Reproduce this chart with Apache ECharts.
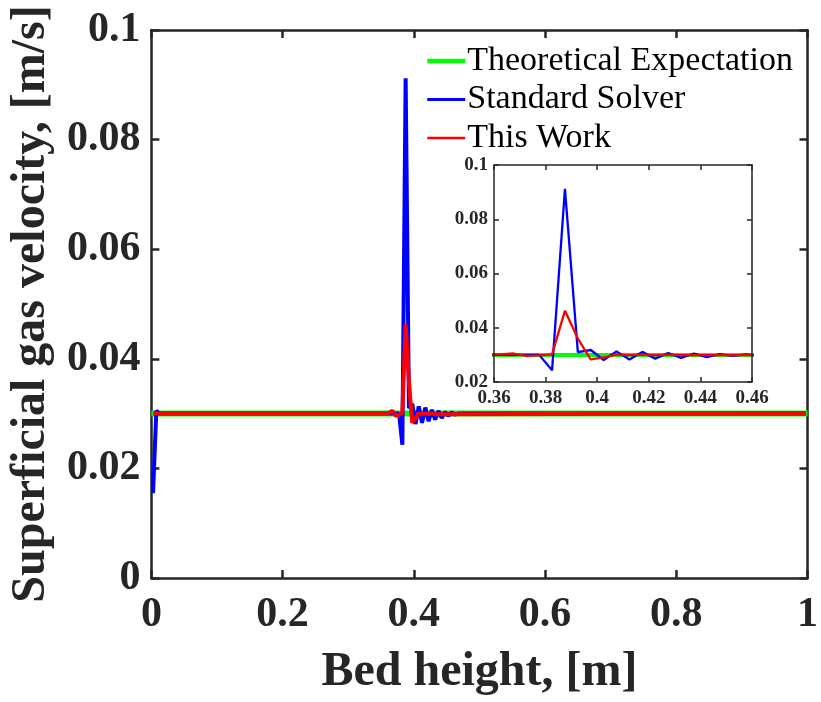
<!DOCTYPE html>
<html><head><meta charset="utf-8">
<script src="https://cdn.jsdelivr.net/npm/echarts@6/dist/echarts.min.js"></script>
<style>html,body{margin:0;padding:0;background:#fff}#c{width:821px;height:702px}</style>
</head><body><div id="c"></div>
<script>
// ---- data ----
const seriesNames = ['Theoretical Expectation', 'Standard Solver', 'This Work'];
const theoretical = [[0, 0.03], [1, 0.03]];
const standardSolver = [
  [0.0025, 0.0155], [0.0075, 0.0305], [0.0125, 0.0300], [0.3775, 0.0300],
  [0.3825, 0.0243], [0.3875, 0.0912], [0.3925, 0.0310], [0.3975, 0.0318],
  [0.4025, 0.0281], [0.4075, 0.0313], [0.4125, 0.0283], [0.4175, 0.0311],
  [0.4225, 0.0286], [0.4275, 0.0307], [0.4325, 0.0289], [0.4375, 0.0305],
  [0.4425, 0.0292], [0.4475, 0.0303], [0.4525, 0.0296], [0.4575, 0.0302],
  [0.4625, 0.0298], [0.4675, 0.0300], [0.9975, 0.0300]
];
const thisWork = [
  [0.0025, 0.0300], [0.3575, 0.0300], [0.3625, 0.0302], [0.3675, 0.0305],
  [0.3725, 0.0296], [0.3775, 0.0298], [0.3825, 0.0302], [0.3875, 0.0463],
  [0.3925, 0.0360], [0.3975, 0.0283], [0.4025, 0.0291], [0.4075, 0.0301],
  [0.4125, 0.0299], [0.4175, 0.0301], [0.4225, 0.0299], [0.4275, 0.0301],
  [0.4325, 0.0299], [0.9975, 0.0300]
];
// axis ranges / ticks
const mainX = {min: 0, max: 1, interval: 0.2};
const mainY = {min: 0, max: 0.1, interval: 0.02};
const insetX = {min: 0.36, max: 0.46, interval: 0.02};
const insetY = {min: 0.02, max: 0.1, interval: 0.02};
const xName = 'Bed height, [m]';
const yName = 'Superficial gas velocity, [m/s]';

// ---- chart ----
const F = "'Liberation Serif','Times New Roman',serif";
const AX = '#262626';
const colors = ['#00ff00', '#0000ff', '#ff0000'];

function ax(range, grid, pos, opts) {
  return Object.assign({
    type: 'value', gridIndex: grid, position: pos,
    min: range.min, max: range.max, interval: range.interval,
    splitLine: {show: false},
    axisLine: {show: true, onZero: false, lineStyle: {color: AX, width: opts.lw}},
    axisTick: {show: true, inside: true, length: opts.tl, lineStyle: {color: AX, width: opts.lw}},
    axisLabel: {show: !!opts.label, color: AX, fontFamily: F, fontWeight: 'bold',
      fontSize: opts.fs, margin: opts.margin, hideOverlap: false,
      showMinLabel: true, showMaxLabel: true}
  }, opts.extra || {});
}

const chart = echarts.init(document.getElementById('c'), null, {renderer: 'canvas'});
const mainW = [6, 4, 4];
const insetW = [4, 2.3, 2.3];
const allData = [theoretical, standardSolver, thisWork];

const series = [];
[0, 1, 2].forEach(i => series.push({
  name: seriesNames[i], type: 'line', xAxisIndex: 0, yAxisIndex: 0,
  data: allData[i], symbol: 'none', smooth: false, z: 2 + i,
  lineStyle: {color: colors[i], width: mainW[i]}, itemStyle: {color: colors[i]}
}));
[0, 1, 2].forEach(i => series.push({
  name: seriesNames[i], type: 'line', xAxisIndex: 2, yAxisIndex: 2,
  data: allData[i], symbol: 'none', smooth: false, z: 12 + i, clip: true,
  lineStyle: {color: colors[i], width: insetW[i]}, itemStyle: {color: colors[i]}
}));

chart.setOption({
  animation: false,
  backgroundColor: '#fff',
  grid: [
    {left: 148, right: 6, top: 30, bottom: 122, containLabel: false},
    {left: 494, width: 258, top: 165, height: 217, containLabel: false,
     show: true, backgroundColor: '#fff', borderWidth: 0, z: 10}
  ],
  legend: {
    left: 425, top: 44, orient: 'vertical', padding: 0,
    itemWidth: 38, itemHeight: 14, itemGap: 4.5,
    itemStyle: {opacity: 0, borderWidth: 0},
    textStyle: {fontFamily: F, fontSize: 34, color: '#000', lineHeight: 34, padding: [0, 0, 0, -3]},
    data: [
      {name: seriesNames[0], lineStyle: {width: 4.5}, itemStyle: {opacity: 0}},
      {name: seriesNames[1], lineStyle: {width: 3}, itemStyle: {opacity: 0}},
      {name: seriesNames[2], lineStyle: {width: 2.5}, itemStyle: {opacity: 0}}
    ]
  },
  xAxis: [
    ax(mainX, 0, 'bottom', {lw: 2.5, tl: 8, label: true, fs: 42, margin: 16,
      extra: {name: xName, nameLocation: 'middle', nameGap: 71,
        nameTextStyle: {fontFamily: F, fontWeight: 'bold', fontSize: 48, color: AX}}}),
    ax(mainX, 0, 'top', {lw: 2.5, tl: 8, label: false}),
    ax(insetX, 1, 'bottom', {lw: 1.5, tl: 5, label: true, fs: 19, margin: 7, extra: {z: 20}}),
    ax(insetX, 1, 'top', {lw: 1.5, tl: 5, label: false, extra: {z: 20}})
  ],
  yAxis: [
    ax(mainY, 0, 'left', {lw: 2.5, tl: 8, label: true, fs: 42, margin: 11,
      extra: {name: yName, nameLocation: 'middle', nameGap: 90, nameRotate: 90,
        nameTextStyle: {fontFamily: F, fontWeight: 'bold', fontSize: 48, color: AX}}}),
    ax(mainY, 0, 'right', {lw: 2.5, tl: 8, label: false}),
    ax(insetY, 1, 'left', {lw: 1.5, tl: 5, label: true, fs: 19, margin: 6, extra: {z: 20}}),
    ax(insetY, 1, 'right', {lw: 1.5, tl: 5, label: false, extra: {z: 20}})
  ],
  series: series
});
</script></body></html>
